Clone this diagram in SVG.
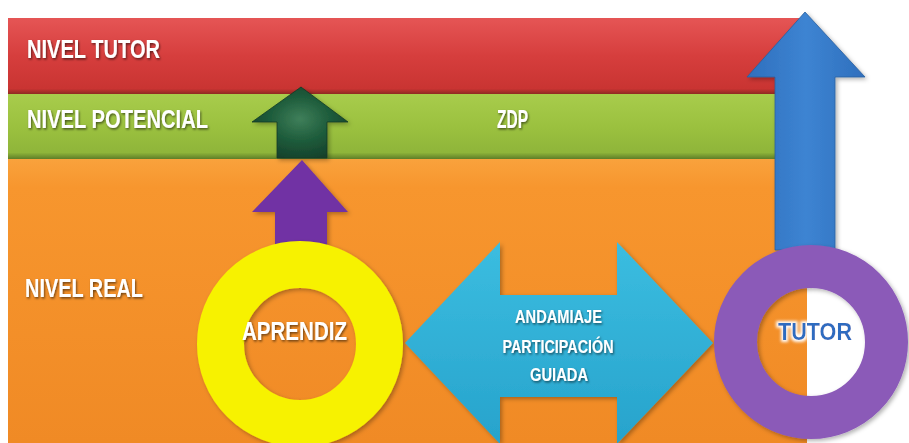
<svg xmlns="http://www.w3.org/2000/svg" width="909" height="443" viewBox="0 0 909 443">
<style>
.lbl{font-family:"Liberation Sans","DejaVu Sans",sans-serif;font-weight:bold;fill:#ffffff;filter:url(#tsh)}
.big{font-size:25px}
.small{font-size:18px}
</style>
<defs>
<filter id="tsh" filterUnits="userSpaceOnUse" x="0" y="0" width="909" height="443">
<feDropShadow dx="1" dy="1.5" stdDeviation="1" flood-color="#000" flood-opacity="0.55"/>
</filter>
<filter id="sh" filterUnits="userSpaceOnUse" x="0" y="0" width="909" height="443">
<feDropShadow dx="2" dy="2" stdDeviation="2" flood-color="#000" flood-opacity="0.3"/>
</filter>
<filter id="glow" filterUnits="userSpaceOnUse" x="0" y="0" width="909" height="443">
<feMorphology in="SourceAlpha" operator="dilate" radius="1.5" result="d"/>
<feGaussianBlur in="d" stdDeviation="1.5" result="b"/>
<feFlood flood-color="#ffffff"/>
<feComposite in2="b" operator="in" result="w"/>
<feMerge><feMergeNode in="w"/><feMergeNode in="SourceGraphic"/></feMerge>
</filter>
<linearGradient id="gRed" x1="0" y1="0" x2="0" y2="1">
<stop offset="0" stop-color="#e55555"/><stop offset="0.5" stop-color="#d63e3d"/><stop offset="0.93" stop-color="#c93432"/><stop offset="1" stop-color="#8e2a22"/>
</linearGradient>
<linearGradient id="gGreen" x1="0" y1="0" x2="0" y2="1">
<stop offset="0" stop-color="#a8cc4c"/><stop offset="0.5" stop-color="#9bc13f"/><stop offset="0.9" stop-color="#8fb53a"/><stop offset="1" stop-color="#5f7e28"/>
</linearGradient>
<linearGradient id="gOrange" x1="0" y1="0" x2="0" y2="1">
<stop offset="0" stop-color="#f9a23c"/><stop offset="0.1" stop-color="#f7962e"/><stop offset="1" stop-color="#f08a25"/>
</linearGradient>
<radialGradient id="gMarble" cx="0.5" cy="0.45" r="0.6">
<stop offset="0" stop-color="#3f7f5a"/><stop offset="0.5" stop-color="#1f5d3c"/><stop offset="1" stop-color="#143f2a"/>
</radialGradient>
<linearGradient id="gCyan" x1="0" y1="0" x2="0" y2="1">
<stop offset="0" stop-color="#3bbde0"/><stop offset="1" stop-color="#27a3cc"/>
</linearGradient>
<linearGradient id="gBlue" x1="0" y1="0" x2="1" y2="0">
<stop offset="0" stop-color="#2f6fbd"/><stop offset="0.5" stop-color="#3d84d2"/><stop offset="1" stop-color="#2f6fbd"/>
</linearGradient>
</defs>
<rect x="0" y="0" width="909" height="443" fill="#ffffff"/>
<g id="nivel-tutor">
<rect x="8" y="18" width="794" height="76" fill="url(#gRed)"/>
<text class="lbl big" x="27" y="58" textLength="133" lengthAdjust="spacingAndGlyphs">NIVEL TUTOR</text>
</g>
<g id="nivel-potencial">
<rect x="8" y="94" width="799" height="65" fill="url(#gGreen)"/>
<text class="lbl big" x="27" y="128" textLength="181" lengthAdjust="spacingAndGlyphs">NIVEL POTENCIAL</text>
<text class="lbl big" x="497" y="128" textLength="31" lengthAdjust="spacingAndGlyphs">ZDP</text>
</g>
<g id="nivel-real">
<rect x="8" y="159" width="799" height="284" fill="url(#gOrange)"/>
<text class="lbl big" x="25" y="297" textLength="118" lengthAdjust="spacingAndGlyphs">NIVEL REAL</text>
</g>
<g id="connectors">
<path id="arrow-zdp" d="M301,87 L348,122 L327,122 L327,158 L277,158 L277,122 L252,122 Z" fill="url(#gMarble)" stroke="#123a26" stroke-width="0.8" filter="url(#sh)"/>
<path id="arrow-aprendiz" d="M302,160 L348,212 L327,212 L327,252 L275,252 L275,212 L252,212 Z" fill="#7131a4" filter="url(#sh)"/>
<path id="arrow-tutor" d="M805,12 L865,77 L835,77 L835,250 L775,250 L775,77 L747,77 Z" fill="url(#gBlue)" stroke="#2a5f9e" stroke-width="0.8" filter="url(#sh)"/>
</g>
<g id="aprendiz">
<circle cx="300" cy="344" r="79.5" fill="none" stroke="#f7f200" stroke-width="47" filter="url(#sh)"/>
<text class="lbl" x="242" y="340" font-size="25" textLength="105" lengthAdjust="spacingAndGlyphs">APRENDIZ</text>
</g>
<g id="andamiaje">
<path d="M405,343 L500,242 L500,295 L617,295 L617,242 L713,343 L617,444 L617,397 L500,397 L500,444 Z" fill="url(#gCyan)" filter="url(#sh)"/>
<text class="lbl small" x="558.5" y="323" text-anchor="middle" textLength="87" lengthAdjust="spacingAndGlyphs">ANDAMIAJE</text>
<text class="lbl small" x="558" y="353" text-anchor="middle" textLength="111" lengthAdjust="spacingAndGlyphs">PARTICIPACIÓN</text>
<text class="lbl small" x="559" y="381" text-anchor="middle" textLength="58" lengthAdjust="spacingAndGlyphs">GUIADA</text>
</g>
<g id="tutor">
<circle cx="811" cy="342" r="75.5" fill="none" stroke="#8b5ab8" stroke-width="43" filter="url(#sh)"/>
<text x="778" y="340" font-family="Liberation Sans, DejaVu Sans, sans-serif" font-weight="bold" font-size="24" fill="#2f6cc0" textLength="74" lengthAdjust="spacingAndGlyphs" filter="url(#glow)">TUTOR</text>
</g>
</svg>
